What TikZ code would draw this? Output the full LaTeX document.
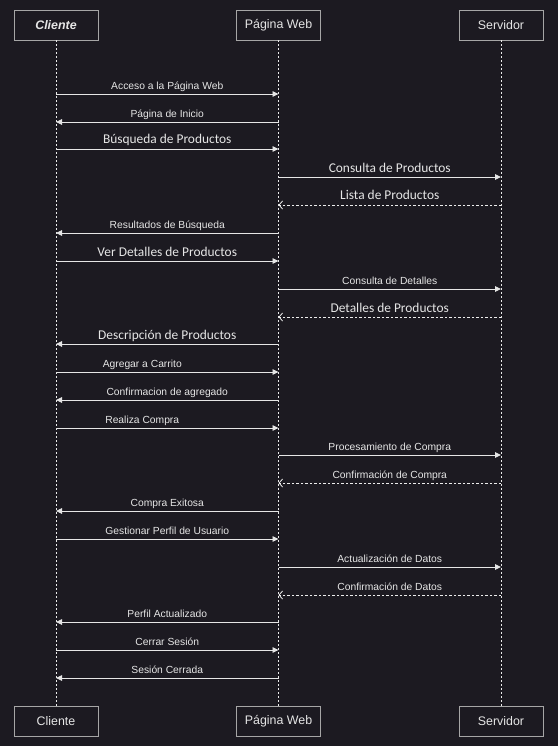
\documentclass[tikz,border=0pt]{standalone}
\usepackage{fontspec}
\setmainfont{Liberation Sans}
\newfontfamily\carlito{Carlito}
\usetikzlibrary{arrows.meta}
\definecolor{bg}{HTML}{1C1A21}
\definecolor{ink}{HTML}{E6E6E6}
\definecolor{frame}{HTML}{A6A6A6}
\tikzset{
  actor/.style={draw=frame, fill=bg, minimum width=84pt, minimum height=30pt,
    inner sep=0pt, text=ink, line width=0.8pt, font=\fontsize{12.4}{14}\selectfont},
  life/.style={draw=ink!80, dash pattern=on 2pt off 2pt, line width=0.6pt},
  msg/.style={draw=ink, line width=0.9pt, -{Triangle[length=6pt,width=5.5pt]}},
  reply/.style={draw=ink!75, dash pattern=on 2.5pt off 2pt, line width=0.8pt,
    -{Straight Barb[length=3.5pt,width=8pt]}},
  lbl/.style={anchor=base, yshift=4.5pt, inner sep=0pt, text=ink,
    font=\fontsize{10.3}{12}\selectfont},
  big/.style={anchor=base, yshift=5pt, inner sep=0pt, text=ink,
    font=\carlito\fontsize{13.4}{15}\selectfont},
}
\begin{document}
\begin{tikzpicture}[x=1pt, y=-1pt]
  \fill[bg] (0,0) rectangle (558,746);
  \useasboundingbox (0,0) rectangle (558,746);
  % participants
  \node[actor] (ct) at (56,25) {\bfseries\itshape Cliente};
  \node[actor] (wt) at (278.5,25) {Página Web};
  \node[actor] (st) at (501,25) {Servidor};
  \node[actor] (cb) at (56,721) {Cliente};
  \node[actor] (wb) at (278.5,721) {Página Web};
  \node[actor] (sb) at (501,721) {Servidor};
  \draw[life] (ct) -- (cb);
  \draw[life] (wt) -- (wb);
  \draw[life] (st) -- (sb);
  % message rows on the lifelines
  \foreach \i/\y in {1/94,2/122,3/149,4/177,5/205,6/233,7/261,8/289,9/317,10/344,
      11/372,12/400,13/428,14/455,15/483,16/511,17/539,18/567,19/595,20/622,
      21/650,22/678} {
    \coordinate (c\i) at (56,\y);
    \coordinate (w\i) at (278.5,\y);
    \coordinate (s\i) at (501,\y);
  }
  % messages
  \draw[msg] (c1) -- node[lbl] {Acceso a la Página Web} (w1);
  \draw[msg] (w2) -- node[lbl] {Página de Inicio} (c2);
  \draw[msg] (c3) -- node[big] {Búsqueda de Productos} (w3);
  \draw[msg] (w4) -- node[big] {Consulta de Productos} (s4);
  \draw[reply] (s5) -- node[big] {Lista de Productos} (w5);
  \draw[msg] (w6) -- node[lbl] {Resultados de Búsqueda} (c6);
  \draw[msg] (c7) -- node[big] {Ver Detalles de Productos} (w7);
  \draw[msg] (w8) -- node[lbl] {Consulta de Detalles} (s8);
  \draw[reply] (s9) -- node[big] {Detalles de Productos} (w9);
  \draw[msg] (w10) -- node[big] {Descripción de Productos} (c10);
  \draw[msg] (c11) -- node[lbl, xshift=-25pt] {Agregar a Carrito} (w11);
  \draw[msg] (w12) -- node[lbl] {Confirmacion de agregado} (c12);
  \draw[msg] (c13) -- node[lbl, xshift=-25pt] {Realiza Compra} (w13);
  \draw[msg] (w14) -- node[lbl] {Procesamiento de Compra} (s14);
  \draw[reply] (s15) -- node[lbl] {Confirmación de Compra} (w15);
  \draw[msg] (w16) -- node[lbl] {Compra Exitosa} (c16);
  \draw[msg] (c17) -- node[lbl] {Gestionar Perfil de Usuario} (w17);
  \draw[msg] (w18) -- node[lbl] {Actualización de Datos} (s18);
  \draw[reply] (s19) -- node[lbl] {Confirmación de Datos} (w19);
  \draw[msg] (w20) -- node[lbl] {Perfil Actualizado} (c20);
  \draw[msg] (c21) -- node[lbl] {Cerrar Sesión} (w21);
  \draw[msg] (w22) -- node[lbl] {Sesión Cerrada} (c22);
\end{tikzpicture}
\end{document}
